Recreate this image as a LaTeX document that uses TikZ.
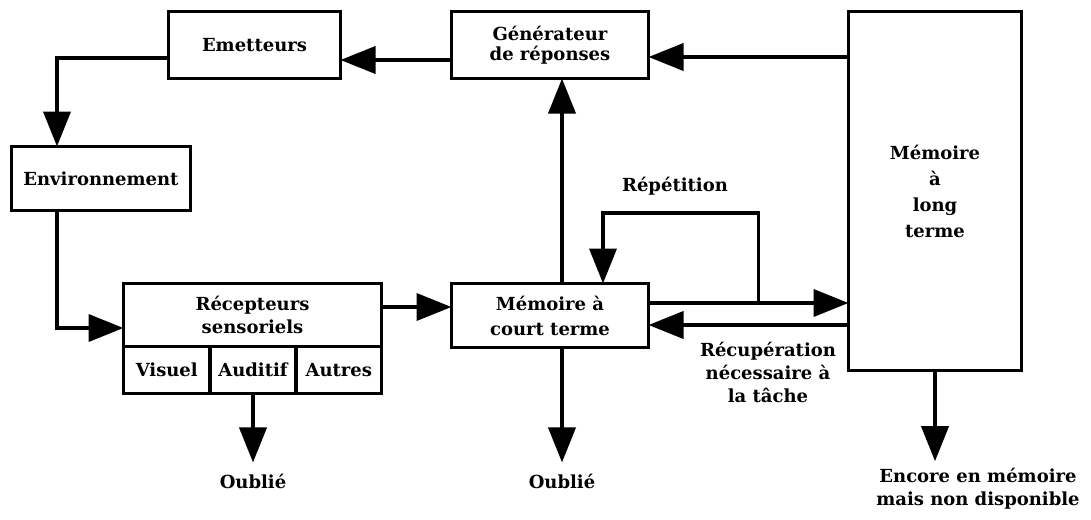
\documentclass[tikz,border=0pt]{standalone}
\usepackage{fontspec}
\setmainfont{DejaVu Serif}
\usepackage{tikz}
\usetikzlibrary{arrows.meta,positioning,calc}

\begin{document}
\begin{tikzpicture}[
    x=1pt, y=-1pt,
    font=\bfseries\fontsize{18}{23}\selectfont,
    box/.style={draw, line width=3.8pt, align=center, inner sep=0pt, outer sep=0pt},
    cell/.style={box, minimum height=47pt},
    lbl/.style={align=center, inner sep=0pt},
    arr/.style={-{Triangle[length=35pt,width=27pt]}, line width=3.8pt}
]
\useasboundingbox (0,0) rectangle (1091,519);

\node[box, minimum width=172pt, minimum height=67pt] (emet) at (254.5,45) {Emetteurs};
\node[box, minimum width=197pt, minimum height=67pt, font=\bfseries\fontsize{18}{20}\selectfont] (gen) at (550,45) {Générateur\\de réponses};
\node[box, minimum width=179pt, minimum height=64pt] (env) at (101,178.5) {Environnement};
\node[box, minimum width=258pt, minimum height=63pt] (rec) at (252.5,315) {Récepteurs\\sensoriels};
\node[cell, minimum width=86.5pt, below right=0pt and 0pt of rec.south west, anchor=north west] (vis) {Visuel};
\node[cell, minimum width=86pt, right=0pt of vis] (aud) {Auditif};
\node[cell, minimum width=85.5pt, right=0pt of aud] (aut) {Autres};
\node[box, minimum width=197pt, minimum height=64pt, font=\bfseries\fontsize{18}{25}\selectfont] (mct) at (550,315.5) {Mémoire à\\court terme};
\node[box, minimum width=173pt, minimum height=359pt, font=\bfseries\fontsize{18}{26}\selectfont] (mlt) at (935,191) {Mémoire\\à\\long\\terme};

\node[lbl] (oub1) at (253,481) {Oublié};
\node[lbl] (oub2) at (562,481) {Oublié};
\node[lbl] (encore) at (978,489) {Encore en mémoire\\mais non disponible};
\node[lbl] (rep) at (675,186) {Répétition};
\node[lbl] (recup) at (768,372) {Récupération\\nécessaire à\\la tâche};

\draw[arr] ($(mlt.west |- gen.east)+(0,12)$) -- ($(gen.east)+(0,12)$);
\draw[arr] ($(gen.west)+(0,15)$) -- ($(emet.east)+(0,15)$);
\draw[arr] ($(emet.west)+(0,13)$) -| ($(env.north)+(-44,0)$);
\draw[arr] ($(env.south)+(-44,0)$) |- ($(rec.west)+(0,13)$);
\draw[arr] ($(rec.east)+(0,-8)$) -- ($(mct.west)+(0,-8.5)$);
\draw[arr, shorten >=11pt] (aud.south) -- (oub1.north);
\draw[arr] ($(mct.north)+(12,0)$) -- ($(gen.south)+(12,0)$);
\draw[arr] ($(mct.east)+(0,-12.5)$) -- ($(mlt.west |- mct.east)+(0,-12.5)$);
\coordinate (split) at ($(mct.east)+(110,-12.5)$);
\draw[arr] (split) -- ++(0,-90) -| ($(mct.north)+(53,0)$);
\draw[arr] ($(mlt.west |- mct.east)+(0,9.5)$) -- ($(mct.east)+(0,9.5)$);
\draw[arr, shorten >=11pt] ($(mct.south)+(12,0)$) -- (oub2.north);
\draw[arr, shorten >=7pt] (mlt.south) -- (mlt.south |- encore.north);
\end{tikzpicture}
\end{document}
